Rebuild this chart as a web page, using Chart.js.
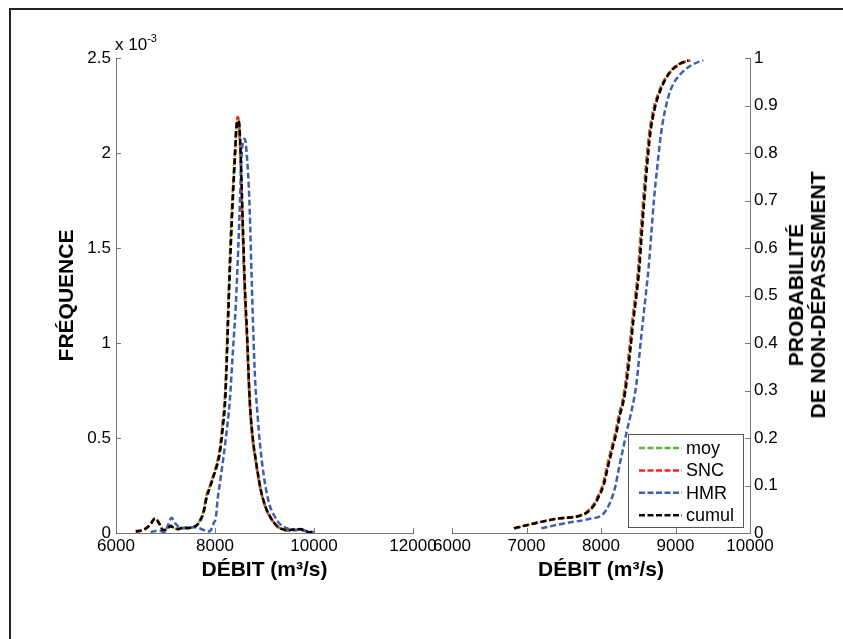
<!DOCTYPE html>
<html>
<head>
<meta charset="utf-8">
<script src="https://cdn.jsdelivr.net/npm/chart.js@4.4.1/dist/chart.umd.min.js"></script>
<style>
  body { margin: 0; background: #fff; overflow: hidden; }
  #wrap { position: relative; width: 843px; height: 639px; overflow: hidden; background: #fff; }
  #frame { position: absolute; left: 9px; top: 8px; width: 900px; height: 700px; border: 2px solid #222; }
  #c1 { position: absolute; left: 0; top: 0; }
  #c2 { position: absolute; left: 430px; top: 0; }
  .txt { position: absolute; font-family: 'Liberation Sans', Arial, sans-serif; color: #000; white-space: nowrap; }
  #expo { left: 115px; top: 35px; font-size: 17px; }
  #expo sup { font-size: 11px; vertical-align: 0; position: relative; top: -8px; }
  #ytitle2 { left: 807px; top: 295px; font-size: 21px; font-weight: bold; line-height: 22px; text-align: center;
             transform: translate(-50%, -50%) rotate(-90deg); }
</style>
</head>
<body>
<div id="wrap">
  <div id="frame"></div>
  <canvas id="c1" width="450" height="639"></canvas>
  <canvas id="c2" width="413" height="639"></canvas>
  <div class="txt" id="expo">x 10<sup>-3</sup></div>
  <div class="txt" id="ytitle2">PROBABILITÉ<br>DE NON-DÉPASSEMENT</div>
</div>
<script>
// series names and colours
const seriesNames = ['moy', 'SNC', 'HMR', 'cumul'];
const seriesColors = ['#5cb83c', '#ff2020', '#3d5fae', '#000000'];

// density (x 10^-3) - moy, SNC and cumul share one grid of débit values
const kdeX = [6400,6500,6600,6700,6790,6870,6950,7030,7100,7180,7260,7350,7450,7540,7620,7700,7770,7830,7900,7960,
  8030,8100,8160,8200,8230,8260,8300,8340,8370,8405,8430,8455,8480,8510,8540,8575,8610,8650,8680,8710,
  8770,8820,8875,8925,8976,9040,9110,9200,9280,9380,9480,9560,9640,9720,9800,9880,9960];
const kdeMoyY = [0.010,0.012,0.025,0.050,0.080,0.050,0.015,0.020,0.040,0.025,0.020,0.030,0.025,0.030,0.040,0.070,0.120,0.200,0.250,0.300,
  0.360,0.450,0.600,0.720,0.900,1.150,1.450,1.700,1.850,2.020,2.130,2.180,2.150,2.000,1.750,1.450,1.200,1.000,0.800,0.640,
  0.470,0.380,0.290,0.220,0.170,0.120,0.085,0.050,0.030,0.018,0.012,0.020,0.015,0.020,0.012,0.006,0.003];
const kdeSncY = [0.010,0.012,0.024,0.048,0.078,0.050,0.016,0.020,0.038,0.026,0.020,0.029,0.026,0.030,0.040,0.068,0.115,0.195,0.248,0.295,
  0.355,0.440,0.585,0.700,0.880,1.120,1.420,1.680,1.840,2.010,2.140,2.190,2.170,2.030,1.780,1.480,1.220,1.010,0.810,0.650,
  0.475,0.385,0.295,0.225,0.172,0.122,0.086,0.051,0.030,0.018,0.012,0.019,0.015,0.020,0.012,0.006,0.003];
const kdeCumY = [0.008,0.012,0.022,0.046,0.076,0.052,0.016,0.018,0.036,0.026,0.021,0.028,0.026,0.029,0.038,0.064,0.108,0.185,0.240,0.290,
  0.345,0.425,0.560,0.670,0.840,1.080,1.380,1.640,1.810,1.990,2.120,2.170,2.170,2.060,1.820,1.520,1.260,1.040,0.830,0.665,
  0.485,0.392,0.300,0.228,0.175,0.125,0.088,0.052,0.031,0.019,0.012,0.019,0.016,0.021,0.013,0.006,0.003];
const kdeHmrX = [6700,6800,6900,6980,7050,7120,7200,7280,7380,7480,7580,7680,7780,7850,7913,7970,8020,8050,8120,8210,
  8300,8360,8420,8470,8505,8540,8570,8600,8640,8694,8754,8808,8860,8909,8990,9077,9140,9212,9300,9414,
  9500,9600,9680,9750,9830,9900,10000];
const kdeHmrY = [0.005,0.010,0.010,0.005,0.040,0.080,0.050,0.030,0.025,0.030,0.030,0.025,0.015,0.008,0.014,0.050,0.085,0.170,0.300,0.480,
  0.700,0.950,1.200,1.500,1.750,2.000,2.060,2.075,2.000,1.750,1.220,0.818,0.620,0.468,0.294,0.172,0.120,0.085,0.050,0.030,
  0.020,0.015,0.018,0.020,0.012,0.008,0.005];

// non-exceedance probability and the débit reached by each series
const cdfP = [0.01,0.02,0.03,0.04,0.06,0.08,0.10,0.14,0.18,0.21,0.25,0.28,0.32,0.39,0.45,0.50,0.56,0.63,0.70,0.77,0.84,0.89,0.935,0.97,0.987,0.995];
const cdfMoyQ = [6846,7100,7400,7760,7900,7965,8020,8080,8140,8190,8240,8290,8330,8380,8420,8460,8500,8530,8565,8600,8645,8700,8790,8920,9050,9190];
const cdfSncQ = [6840,7100,7400,7770,7905,7970,8025,8085,8148,8197,8248,8297,8337,8388,8428,8467,8507,8538,8572,8608,8652,8708,8800,8930,9060,9200];
const cdfHmrQ = [7200,7500,7850,8030,8110,8160,8195,8245,8300,8340,8400,8440,8480,8525,8565,8600,8640,8675,8710,8755,8805,8860,8940,9090,9240,9373];
const cdfCumQ = [6830,7100,7410,7780,7915,7980,8035,8095,8157,8206,8257,8306,8346,8397,8437,8476,8516,8547,8581,8617,8661,8716,8805,8925,9045,9175];

// tick values
const densTicksX = [6000, 8000, 10000, 12000];
const densTicksY = [0, 0.5, 1, 1.5, 2, 2.5];
const cdfTicksX = [6000, 7000, 8000, 9000, 10000];
const cdfTicksY = [0, 0.1, 0.2, 0.3, 0.4, 0.5, 0.6, 0.7, 0.8, 0.9, 1];

Chart.defaults.font.family = "'Liberation Sans', Arial, sans-serif";
Chart.defaults.color = '#000';

const pts = (xs, ys) => xs.map((x, i) => ({ x: x, y: ys[i] }));

function mkSet(i, data) {
  return {
    label: seriesNames[i],
    data: data,
    borderColor: seriesColors[i],
    backgroundColor: seriesColors[i],
    borderWidth: 2.5,
    borderDash: [6, 3],
    pointRadius: 0,
    cubicInterpolationMode: 'monotone',
    fill: false,
    order: 4 - i
  };
}

// MATLAB style ticks that point into the plot
const inTicks = {
  id: 'inTicks',
  afterDraw(chart) {
    const ctx = chart.ctx, a = chart.chartArea;
    ctx.save();
    ctx.strokeStyle = '#777';
    ctx.lineWidth = 1;
    Object.values(chart.scales).forEach(s => {
      s.ticks.forEach(t => {
        const p = Math.round(s.getPixelForValue(t.value)) + 0.5;
        ctx.beginPath();
        if (s.axis === 'x') { ctx.moveTo(p, a.bottom); ctx.lineTo(p, a.bottom - 5); }
        else if (s.position === 'left') { ctx.moveTo(a.left, p); ctx.lineTo(a.left + 5, p); }
        else { ctx.moveTo(a.right, p); ctx.lineTo(a.right - 5, p); }
        ctx.stroke();
      });
    });
    ctx.restore();
  }
};

// boxed legend inside the right plot
const boxLegend = {
  id: 'boxLegend',
  afterDraw(chart) {
    const ctx = chart.ctx;
    const bx = 198, by = 434, bw = 115, bh = 93;
    ctx.save();
    ctx.fillStyle = '#fff';
    ctx.fillRect(bx, by, bw, bh);
    ctx.strokeStyle = '#555';
    ctx.lineWidth = 1;
    ctx.strokeRect(bx + 0.5, by + 0.5, bw, bh);
    ctx.font = "18px 'Liberation Sans', Arial, sans-serif";
    ctx.textBaseline = 'middle';
    chart.data.datasets.forEach((ds, i) => {
      const y = by + 14 + i * 22.4;
      ctx.strokeStyle = ds.borderColor;
      ctx.lineWidth = 2.5;
      ctx.setLineDash([6, 2.5]);
      ctx.beginPath();
      ctx.moveTo(bx + 11, y);
      ctx.lineTo(bx + 54, y);
      ctx.stroke();
      ctx.setLineDash([]);
      ctx.fillStyle = '#000';
      ctx.fillText(ds.label, bx + 58, y + 1);
    });
    ctx.restore();
  }
};

const fmt = v => String(+v.toFixed(1));
const axisLine = { display: true, color: '#777', width: 1 };
const noGrid = { display: true, drawOnChartArea: false, drawTicks: false };
const titleFont = { size: 21, weight: 'bold' };

new Chart(document.getElementById('c1'), {
  type: 'line',
  data: {
    datasets: [
      mkSet(0, pts(kdeX, kdeMoyY)),
      mkSet(1, pts(kdeX, kdeSncY)),
      mkSet(2, pts(kdeHmrX, kdeHmrY)),
      mkSet(3, pts(kdeX, kdeCumY))
    ]
  },
  options: {
    responsive: false,
    animation: false,
    devicePixelRatio: 1,
    layout: { padding: { top: 58, right: 37, left: 0, bottom: 0 } },
    plugins: { legend: { display: false }, tooltip: { enabled: false } },
    scales: {
      x: {
        type: 'linear', min: 6000, max: 12000,
        afterBuildTicks: s => { s.ticks = densTicksX.map(v => ({ value: v })); },
        afterFit: s => { s.height = 106; },
        ticks: { font: { size: 17 }, padding: 3, maxRotation: 0, callback: v => String(v) },
        grid: noGrid, border: axisLine,
        title: { display: true, text: 'DÉBIT (m³/s)', font: titleFont, padding: { top: 0, bottom: 56 } }
      },
      y: {
        type: 'linear', min: 0, max: 2.5,
        afterBuildTicks: s => { s.ticks = densTicksY.map(v => ({ value: v })); },
        afterFit: s => { s.width = 116; },
        ticks: { font: { size: 17 }, padding: 5, callback: fmt },
        grid: noGrid, border: axisLine,
        title: { display: true, text: 'FRÉQUENCE', font: titleFont, padding: { top: 55, bottom: 0 } }
      }
    }
  },
  plugins: [inTicks]
});

new Chart(document.getElementById('c2'), {
  type: 'line',
  data: {
    datasets: [
      mkSet(0, pts(cdfMoyQ, cdfP)),
      mkSet(1, pts(cdfSncQ, cdfP)),
      mkSet(2, pts(cdfHmrQ, cdfP)),
      mkSet(3, pts(cdfCumQ, cdfP))
    ]
  },
  options: {
    responsive: false,
    animation: false,
    devicePixelRatio: 1,
    layout: { padding: { top: 58, right: 0, left: 22, bottom: 0 } },
    plugins: { legend: { display: false }, tooltip: { enabled: false } },
    scales: {
      x: {
        type: 'linear', min: 6000, max: 10000,
        afterBuildTicks: s => { s.ticks = cdfTicksX.map(v => ({ value: v })); },
        afterFit: s => { s.height = 106; },
        ticks: { font: { size: 17 }, padding: 3, maxRotation: 0, callback: v => String(v) },
        grid: noGrid, border: axisLine,
        title: { display: true, text: 'DÉBIT (m³/s)', font: titleFont, padding: { top: 0, bottom: 56 } }
      },
      y: {
        type: 'linear', position: 'right', min: 0, max: 1,
        afterBuildTicks: s => { s.ticks = cdfTicksY.map(v => ({ value: v })); },
        afterFit: s => { s.width = 93; },
        ticks: { font: { size: 17 }, padding: 4, callback: fmt },
        grid: noGrid, border: axisLine
      }
    }
  },
  plugins: [inTicks, boxLegend]
});
</script>
</body>
</html>
